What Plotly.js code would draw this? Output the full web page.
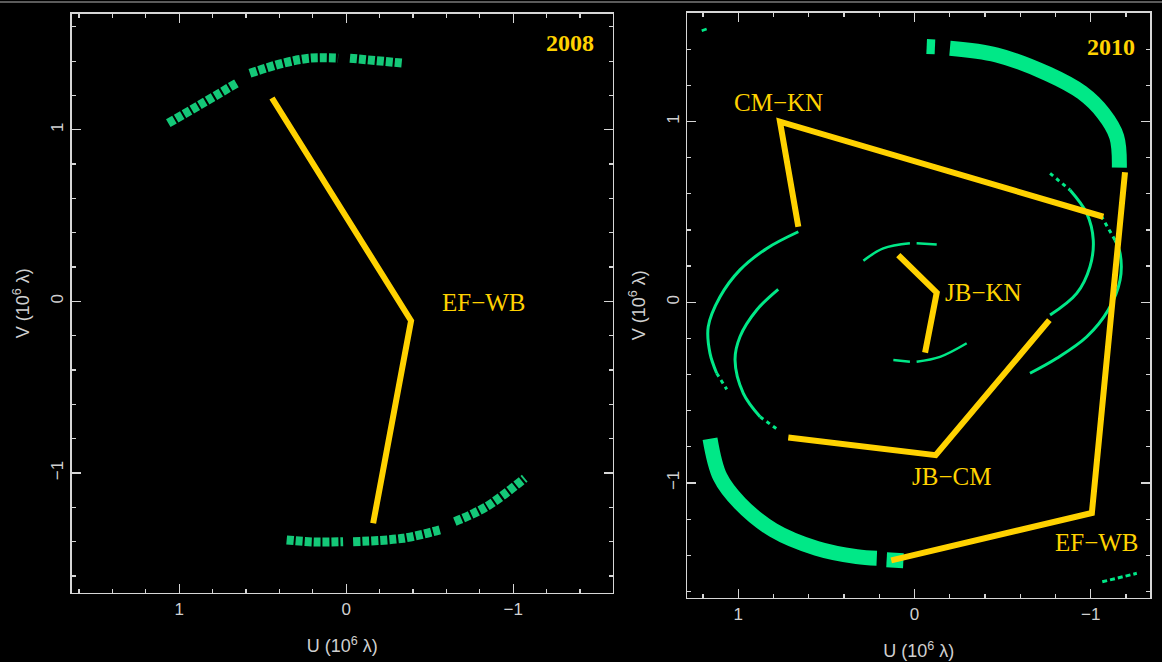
<!DOCTYPE html>
<html>
<head>
<meta charset="utf-8">
<script src="https://cdn.plot.ly/plotly-3.0.1.min.js"></script>
<style>
  html, body { margin: 0; padding: 0; background: #000; }
  #chart { width: 1162px; height: 662px; }
</style>
</head>
<body>
<div id="chart"></div>
<script>
// ---------------- 2008 panel (U, V in 10^6 lambda) ----------------
const efwb2008U = [0.445, -0.388, -0.161];
const efwb2008V = [1.185, -0.113, -1.293];

// uv track 2008, upper arc (null = gap in the track)
const track2008UpU = [1.066, 0.877, 0.657, null, 0.577, 0.378, 0.218, 0.049, null, -0.022, -0.341];
const track2008UpV = [1.038, 1.145, 1.271, null, 1.329, 1.388, 1.417, 1.417, null, 1.417, 1.388];
// uv track 2008, lower arc
const track2008LoU = [0.357, 0.190, 0.019, null, -0.041, -0.341, -0.560, null, -0.650, -0.840, -1.069];
const track2008LoV = [-1.390, -1.402, -1.400, null, -1.400, -1.380, -1.331, null, -1.283, -1.196, -1.030];

// ---------------- 2010 panel ----------------
const cmkn2010U = [0.659, 0.763, -1.071];
const cmkn2010V = [0.418, 0.999, 0.473];
const jbkn2010U = [0.092, -0.126, -0.060];
const jbkn2010V = [0.261, 0.053, -0.279];
const jbcm2010U = [0.716, -0.120, -0.765];
const jbcm2010V = [-0.748, -0.846, -0.099];
const efwb2010U = [-1.194, -1.006, 0.132];
const efwb2010V = [0.719, -1.166, -1.428];

// EF-WB tracks (wide bands)
const bandUpU = [-0.069, -0.116, null, -0.201, -0.466, -0.760, -0.950, -1.071, -1.147, -1.162];
const bandUpV = [1.415, 1.413, null, 1.405, 1.368, 1.262, 1.160, 1.045, 0.916, 0.745];
const bandLoU = [1.160, 1.103, 0.990, 0.801, 0.555, 0.328, 0.214, null, 0.158, 0.063];
const bandLoV = [-0.755, -0.966, -1.113, -1.261, -1.362, -1.408, -1.417, null, -1.425, -1.430];

// CM-KN tracks
const cmknTrackAU = [0.659, 0.838, 0.990, 1.103, 1.170, 1.160, 1.122];
const cmknTrackAV = [0.390, 0.298, 0.179, 0.030, -0.136, -0.283, -0.393];
const cmknTrackAdotU = [1.122, 1.065];
const cmknTrackAdotV = [-0.393, -0.482];
const cmknTrackBU = [-0.655, -0.807, -0.977, -1.099, -1.166, -1.166, -1.137];
const cmknTrackBV = [-0.393, -0.310, -0.191, -0.043, 0.123, 0.271, 0.344];
const cmknTrackBdotU = [-1.137, -1.062];
const cmknTrackBdotV = [0.344, 0.473];

// JB-CM tracks
const jbcmTrackAU = [0.773, 0.895, 0.990, 1.018, 0.971, 0.876];
const jbcmTrackAV = [0.071, -0.043, -0.191, -0.320, -0.504, -0.634];
const jbcmTrackAdotU = [0.876, 0.773];
const jbcmTrackAdotV = [-0.634, -0.707];
const jbcmTrackBU = [-0.882, -0.977, -1.014, -0.995, -0.920, -0.769];
const jbcmTrackBV = [0.621, 0.492, 0.344, 0.196, 0.049, -0.071];
const jbcmTrackBdotU = [-0.769, -0.882];
const jbcmTrackBdotV = [0.713, 0.621];

// JB-KN tracks
const jbknTrackAU = [0.290, 0.177, 0.026, null, -0.012, -0.126];
const jbknTrackAV = [0.230, 0.298, 0.326, null, 0.326, 0.320];
const jbknTrackBU = [0.120, 0.026, null, -0.012, -0.145, -0.296];
const jbknTrackBV = [-0.320, -0.329, null, -0.329, -0.302, -0.227];

// isolated short tracks near the corners
const cornerAU = [1.207, 1.179];
const cornerAV = [1.502, 1.512];
const cornerBU = [-1.065, -1.261];
const cornerBV = [-1.547, -1.500];

// text labels
const labels2008 = [
  {text: 'EF\u2212WB', u: -0.824, v: -0.005, bold: false},
  {text: '2008', u: -1.340, v: 1.505, bold: true}
];
const labels2010 = [
  {text: 'CM\u2212KN', u: 0.770, v: 1.106, bold: false},
  {text: 'JB\u2212KN', u: -0.392, v: 0.056, bold: false},
  {text: 'JB\u2212CM', u: -0.208, v: -0.967, bold: false},
  {text: 'EF\u2212WB', u: -1.035, v: -1.329, bold: false},
  {text: '2010', u: -1.113, v: 1.414, bold: true}
];

// ---------------- styling ----------------
const GOLD = '#ffd200';
const GREEN = '#00e887';
const GREEN_DIM = '#14c878';

function line(u, v, xa, ya, color, width, opts) {
  opts = opts || {};
  return {
    type: 'scatter', mode: 'lines', x: u, y: v, xaxis: xa, yaxis: ya,
    connectgaps: false, hoverinfo: 'skip', showlegend: false,
    line: Object.assign({color: color, width: width, shape: opts.shape || 'linear'},
                        opts.dash ? {dash: opts.dash} : {})
  };
}

const traces = [
  // 2008
  line(track2008UpU, track2008UpV, 'x', 'y', GREEN_DIM, 9, {shape: 'spline', dash: '7px,2px'}),
  line(track2008LoU, track2008LoV, 'x', 'y', GREEN_DIM, 9, {shape: 'spline', dash: '7px,2px'}),
  line(efwb2008U, efwb2008V, 'x', 'y', GOLD, 6),
  // 2010 tracks
  line(bandUpU, bandUpV, 'x2', 'y2', GREEN, 15, {shape: 'spline'}),
  line(bandLoU, bandLoV, 'x2', 'y2', GREEN, 15, {shape: 'spline'}),
  line(cmknTrackAU, cmknTrackAV, 'x2', 'y2', GREEN, 3, {shape: 'spline'}),
  line(cmknTrackAdotU, cmknTrackAdotV, 'x2', 'y2', GREEN, 3, {dash: '4px,4px'}),
  line(cmknTrackBU, cmknTrackBV, 'x2', 'y2', GREEN, 3, {shape: 'spline'}),
  line(cmknTrackBdotU, cmknTrackBdotV, 'x2', 'y2', GREEN, 3, {dash: '4px,4px'}),
  line(jbcmTrackAU, jbcmTrackAV, 'x2', 'y2', GREEN, 3, {shape: 'spline'}),
  line(jbcmTrackAdotU, jbcmTrackAdotV, 'x2', 'y2', GREEN, 3, {dash: '4px,4px'}),
  line(jbcmTrackBU, jbcmTrackBV, 'x2', 'y2', GREEN, 3, {shape: 'spline'}),
  line(jbcmTrackBdotU, jbcmTrackBdotV, 'x2', 'y2', GREEN, 3, {dash: '4px,4px'}),
  line(jbknTrackAU, jbknTrackAV, 'x2', 'y2', GREEN, 2.5, {shape: 'spline'}),
  line(jbknTrackBU, jbknTrackBV, 'x2', 'y2', GREEN, 2.5, {shape: 'spline'}),
  line(cornerAU, cornerAV, 'x2', 'y2', GREEN, 2.5),
  line(cornerBU, cornerBV, 'x2', 'y2', GREEN, 3, {dash: '5px,3px'}),
  // 2010 baselines
  line(cmkn2010U, cmkn2010V, 'x2', 'y2', GOLD, 6),
  line(jbkn2010U, jbkn2010V, 'x2', 'y2', GOLD, 6),
  line(jbcm2010U, jbcm2010V, 'x2', 'y2', GOLD, 6),
  line(efwb2010U, efwb2010V, 'x2', 'y2', GOLD, 6)
];

const AXC = '#d6d6d6';
const tickFont = {family: 'Liberation Sans, DejaVu Sans, sans-serif', size: 17, color: '#d0d0d0'};
const titleFont = {family: 'Liberation Sans, DejaVu Sans, sans-serif', size: 18, color: '#d0d0d0'};

function axis(domain, range, extra) {
  return Object.assign({
    domain: domain, range: range, autorange: false,
    showgrid: false, zeroline: false,
    showline: true, linecolor: AXC, linewidth: 1.5, mirror: 'allticks',
    ticks: 'inside', ticklen: 9, tickwidth: 1.3, tickcolor: AXC,
    tick0: 0, dtick: 1, tickfont: tickFont,
    minor: {dtick: 0.2, tick0: 0, ticks: 'inside', ticklen: 4, tickwidth: 1.2, tickcolor: AXC, showgrid: false},
    fixedrange: true
  }, extra);
}

function makeAnn(list, xa, ya) {
  return list.map(function (l) {
    return {
      xref: xa, yref: ya, x: l.u, y: l.v, text: l.bold ? '<b>' + l.text + '</b>' : l.text,
      showarrow: false, xanchor: 'center', yanchor: 'middle',
      font: {family: 'Liberation Serif, DejaVu Serif, serif', size: l.bold ? 24 : 25, color: GOLD}
    };
  });
}

const layout = {
  width: 1162, height: 662,
  margin: {l: 0, r: 0, t: 0, b: 0},
  paper_bgcolor: '#000', plot_bgcolor: '#000',
  showlegend: false,
  xaxis: axis([0.0616, 0.5275], [1.645, -1.597], {anchor: 'y',
    title: {text: 'U (10<sup>6</sup> \u03bb)', font: titleFont, standoff: 22}}),
  yaxis: axis([0.1048, 0.979], [-1.697, 1.675], {anchor: 'x', tickangle: -90,
    title: {text: 'V (10<sup>6</sup> \u03bb)', font: titleFont, standoff: 14}}),
  xaxis2: axis([0.5916, 0.9897], [1.288, -1.336], {anchor: 'y2',
    title: {text: 'U (10<sup>6</sup> \u03bb)', font: titleFont, standoff: 22}}),
  yaxis2: axis([0.0971, 0.9808], [-1.635, 1.602], {anchor: 'x2', tickangle: -90,
    title: {text: 'V (10<sup>6</sup> \u03bb)', font: titleFont, standoff: 14}}),
  annotations: makeAnn(labels2008, 'x', 'y').concat(makeAnn(labels2010, 'x2', 'y2')),
  shapes: [
    {type: 'line', xref: 'paper', yref: 'paper', x0: 0, x1: 1, y0: 0.997, y1: 0.997,
     line: {color: '#7a7a7a', width: 1.5}}
  ]
};

Plotly.newPlot('chart', traces, layout, {displayModeBar: false, staticPlot: true});
</script>
</body>
</html>
